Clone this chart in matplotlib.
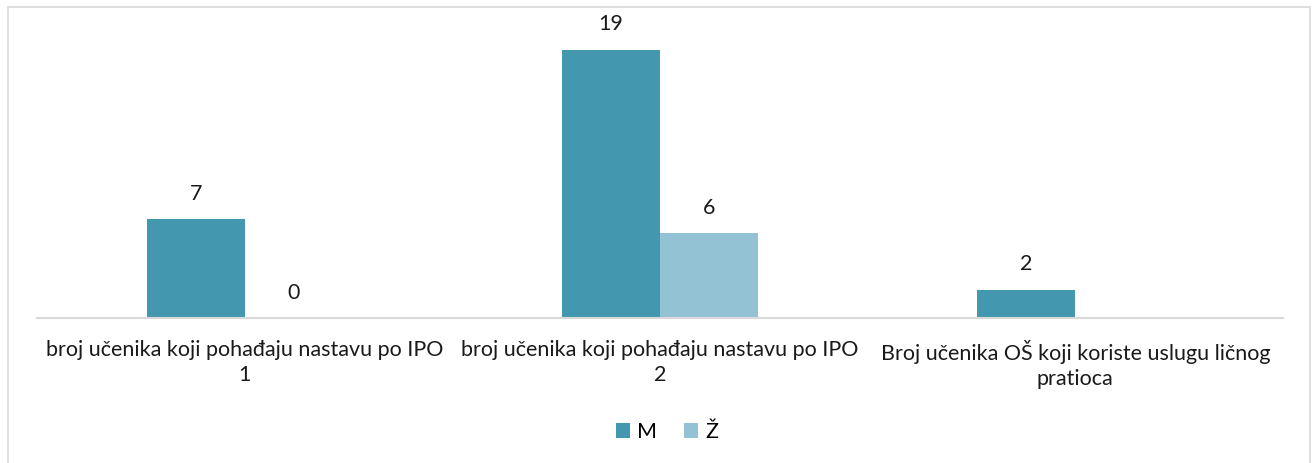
import matplotlib.pyplot as plt
import numpy as np
from matplotlib.patches import Rectangle

plt.rcParams['font.family'] = ['Lato', 'DejaVu Sans']

categories = ['broj učenika koji pohađaju nastavu po IPO\n1',
              'broj učenika koji pohađaju nastavu po IPO\n2',
              'Broj učenika OŠ koji koriste uslugu ličnog\npratioca']
m_vals = [7, 19, 2]
z_vals = [0, 6, None]
series_names = ['M', 'Ž']
colors = ['#4398AF', '#93C2D4']

W, H = 1314, 463
fig = plt.figure(figsize=(W / 100, H / 100), dpi=100)

# outer chart frame
fig.patches.append(Rectangle((8 / W, -0.01), (1310 - 8) / W, (H - 7) / H + 0.01,
                             transform=fig.transFigure, fill=False,
                             edgecolor='#D9D9D9', linewidth=1.2))

ax = fig.add_axes([37 / W, (H - 318) / H, (1283 - 37) / W, (318 - 20) / H])

x = np.arange(len(categories))
bw = 0.236
mb = ax.bar(x - bw / 2, m_vals, bw, color=colors[0], label=series_names[0])
z_plot = [v if v is not None else 0 for v in z_vals]
zb = ax.bar(x + bw / 2, z_plot, bw, color=colors[1], label=series_names[1])

fs = 15.5
for rect, v in zip(mb, m_vals):
    ax.annotate(str(v), (rect.get_x() + rect.get_width() / 2, v),
                xytext=(0, 11), textcoords='offset points', ha='center',
                va='bottom', fontsize=fs, color='#1a1a1a')
for rect, v in zip(zb, z_vals):
    if v is None:
        continue
    ax.annotate(str(v), (rect.get_x() + rect.get_width() / 2, v),
                xytext=(0, 11), textcoords='offset points', ha='center',
                va='bottom', fontsize=fs, color='#1a1a1a')

ax.set_xlim(-0.5, len(categories) - 0.5)
ax.set_ylim(0, 21.1)
ax.set_xticks(x)
ax.set_xticklabels(categories, fontsize=fs, color='#1a1a1a', linespacing=1.3)
ax.tick_params(axis='x', length=0, pad=16)
ax.set_yticks([])
for s in ['top', 'right', 'left']:
    ax.spines[s].set_visible(False)
ax.spines['bottom'].set_color('#D9D9D9')
ax.spines['bottom'].set_linewidth(1.5)

fig.legend(loc='center', bbox_to_anchor=(667 / W, (H - 432) / H), ncol=2,
           frameon=False, fontsize=fs, handlelength=0.65, handleheight=0.65,
           handletextpad=0.3, columnspacing=1.3)

fig.savefig('out.png', dpi=100)
